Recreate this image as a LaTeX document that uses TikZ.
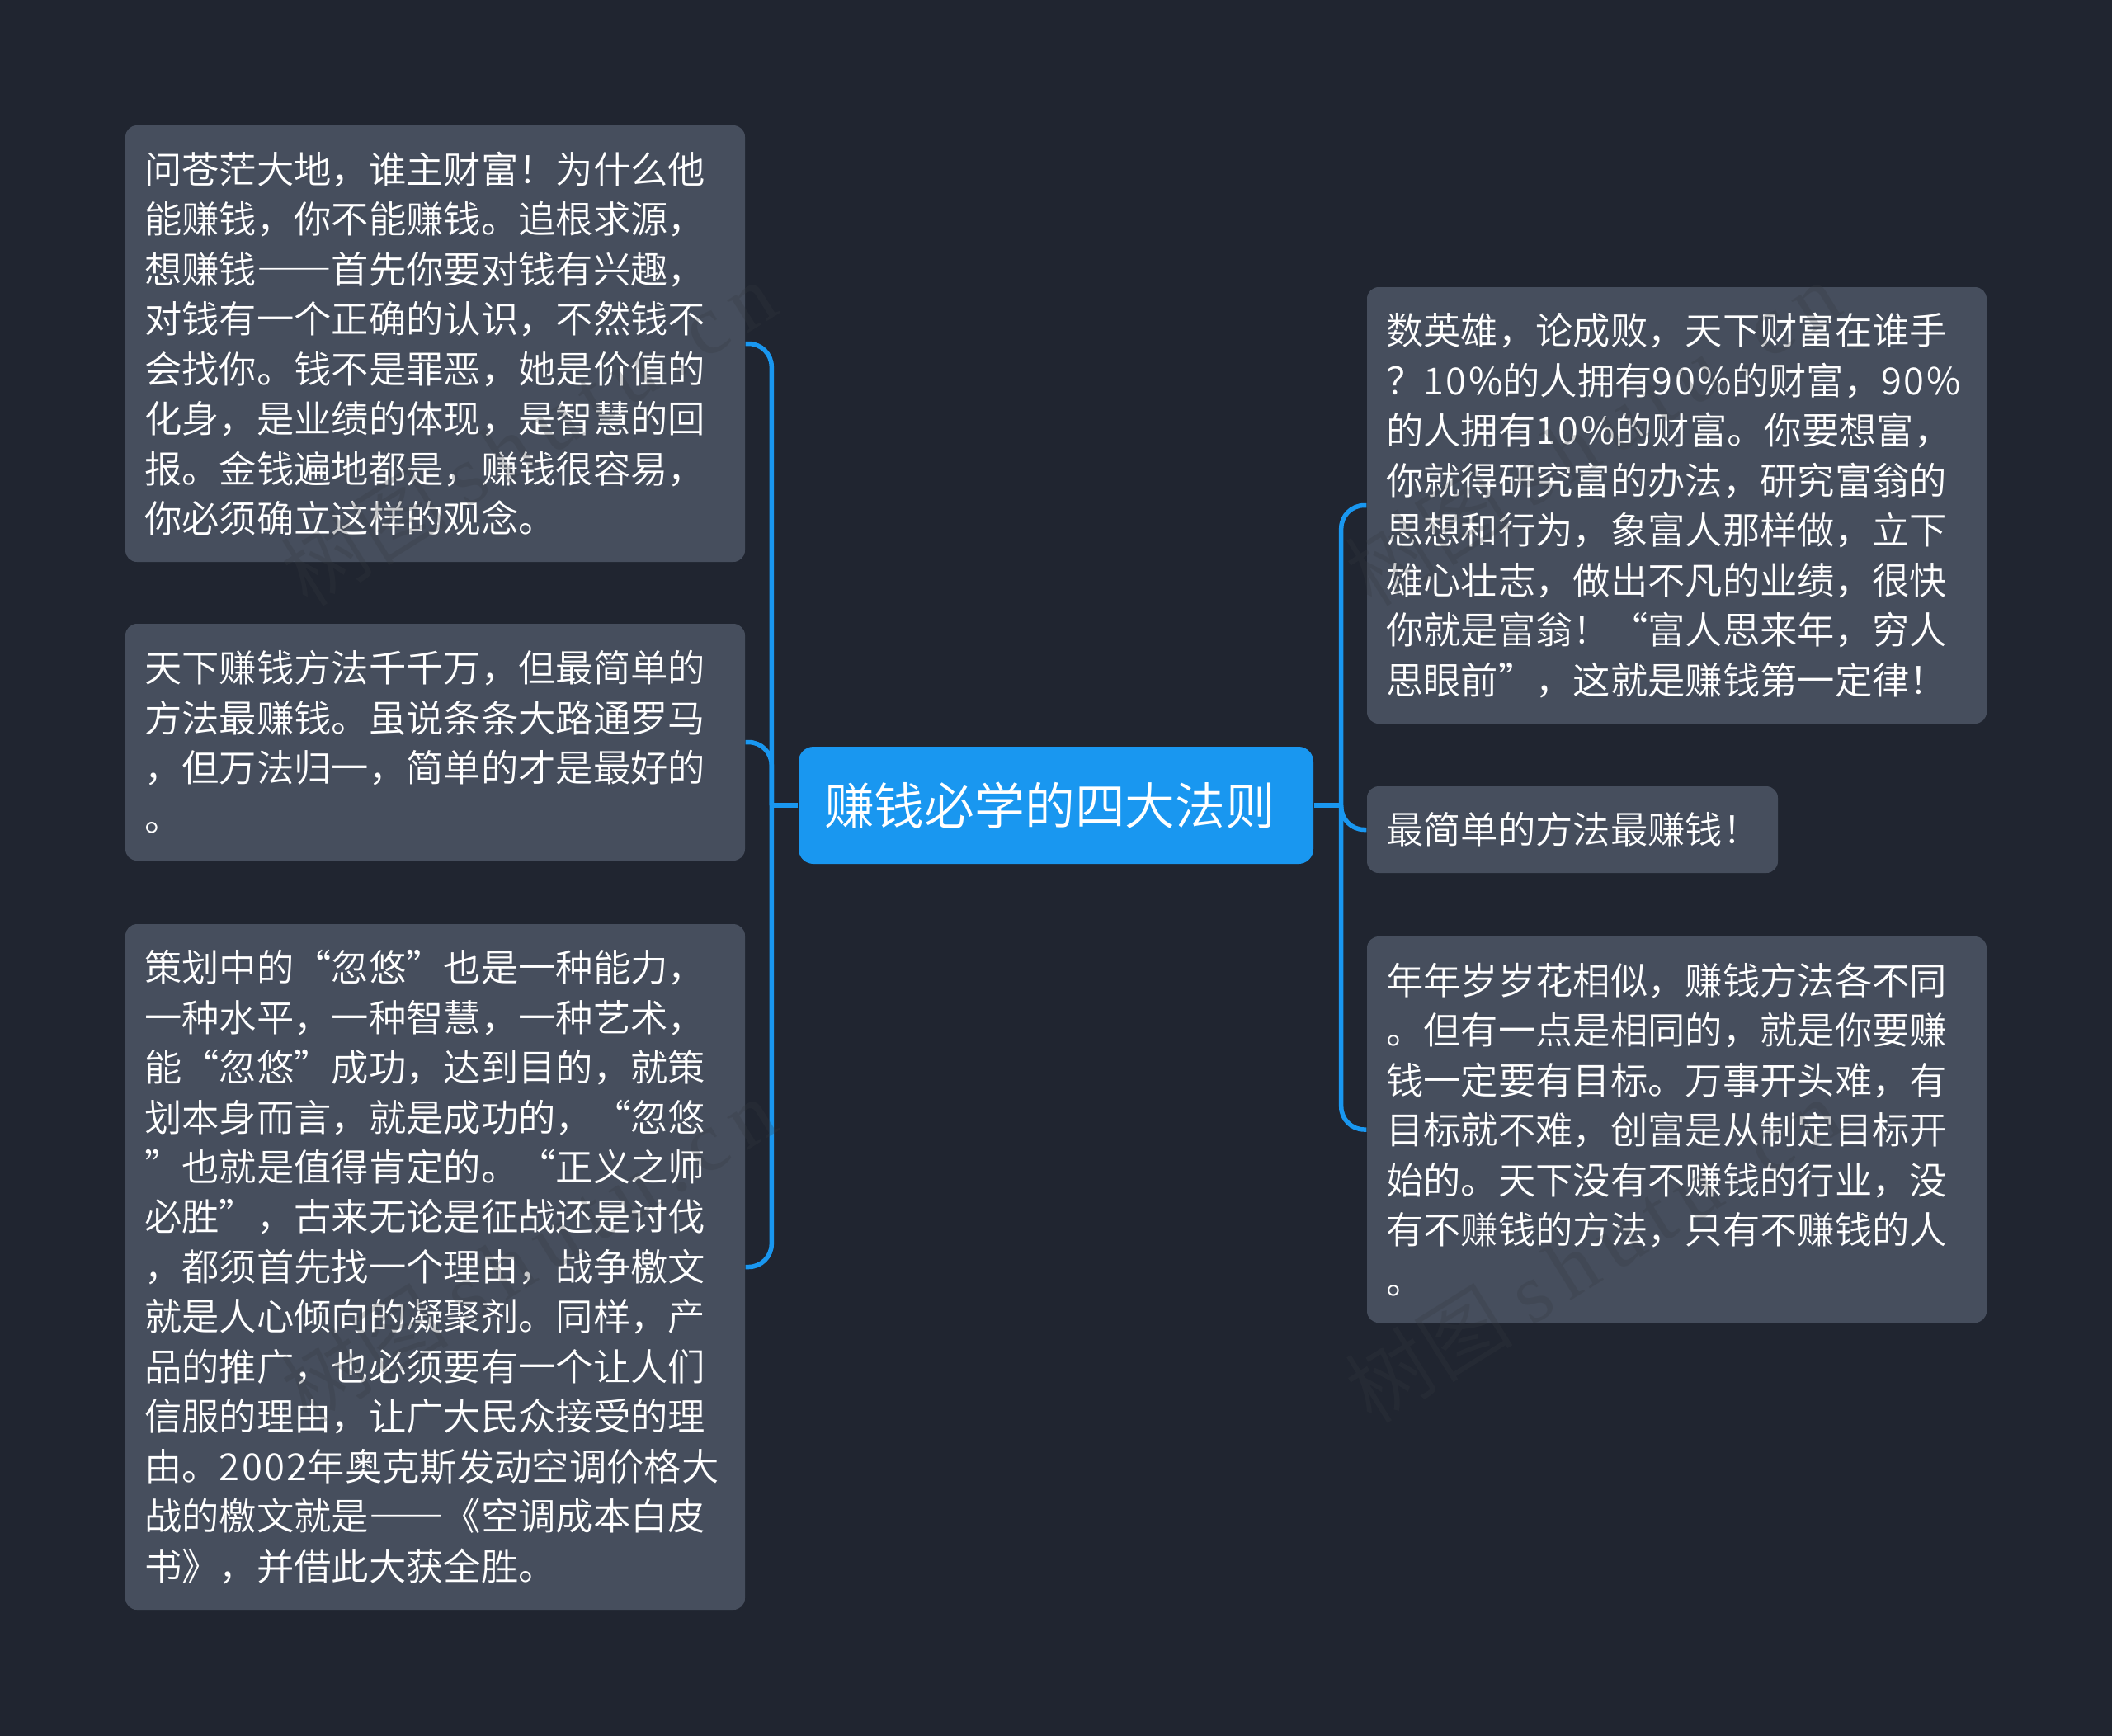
\documentclass[tikz,border=0pt]{standalone}
\usepackage{fontspec}
\setmainfont{Noto Sans CJK SC}[UprightFont={* DemiLight}]
\newfontfamily\stampfont{Liberation Serif}[LetterSpace=15]
\newcommand{\digs}[1]{{\addfontfeature{LetterSpace=5.5}#1}}
\newcommand{\dashes}{{\addfontfeature{RawFeature=+fwid}——}}
\definecolor{bgdark}{HTML}{202530}
\definecolor{boxgray}{HTML}{464E5D}
\definecolor{linkblue}{HTML}{1997F0}
\definecolor{stampgray}{HTML}{363A40}

\begin{document}
\begin{tikzpicture}
        [every node/.style={align=left,inner xsep=0.23cm,inner ysep=0,rounded corners=0.14cm,fill=boxgray,text=white,font=\fontsize{12.9pt}{17.2pt}\selectfont},
        link/.style={draw=linkblue,line width=0.055cm,rounded corners=0.28cm},
        stamp/.style={fill=none,text=stampgray,text opacity=0.27,rotate=32,font=\fontsize{29pt}{36pt}\selectfont}]

        \useasboundingbox (0, 0) rectangle (25.6, -21.03);
        \fill[bgdark] (-0.1, 0.1) rectangle (25.7, -21.13);

        \node[fill=linkblue,rounded corners=0.18cm,inner xsep=0.31cm,text width=5.62cm,minimum height=1.42cm,font=\fontsize{17.3pt}{20pt}\selectfont] (root) at (12.8, -9.76) {赚钱必学的四大法则};

        \node[text width=7.05cm,minimum height=5.29cm] (l1) at (5.275, -4.165) {问苍茫大地，谁主财富！为什么他\\能赚钱，你不能赚钱。追根求源，\\想赚钱\dashes 首先你要对钱有兴趣，\\对钱有一个正确的认识，不然钱不\\会找你。钱不是罪恶，她是价值的\\化身，是业绩的体现，是智慧的回\\报。金钱遍地都是，赚钱很容易，\\你必须确立这样的观念。};
        \node[text width=7.05cm,minimum height=2.87cm] (l2) at (5.275, -8.995) {天下赚钱方法千千万，但最简单的\\方法最赚钱。虽说条条大路通罗马\\，但万法归一，简单的才是最好的\\。};
        \node[text width=7.05cm,minimum height=8.31cm] (l3) at (5.275, -15.355) {策划中的“忽悠”也是一种能力，\\一种水平，一种智慧，一种艺术，\\能“忽悠”成功，达到目的，就策\\划本身而言，就是成功的，“忽悠\\”也就是值得肯定的。“正义之师\\必胜”，古来无论是征战还是讨伐\\，都须首先找一个理由，战争檄文\\就是人心倾向的凝聚剂。同样，产\\品的推广，也必须要有一个让人们\\信服的理由，让广大民众接受的理\\由。\digs{2002}年奥克斯发动空调价格大\\战的檄文就是\dashes《空调成本白皮\\书》，并借此大获全胜。};

        \node[text width=7.05cm,minimum height=5.29cm] (r1) at (20.325, -6.125) {数英雄，论成败，天下财富在谁手\\？\digs{10\%}的人拥有\digs{90\%}的财富，\digs{90\%}\\的人拥有\digs{10\%}的财富。你要想富，\\你就得研究富的办法，研究富翁的\\思想和行为，象富人那样做，立下\\雄心壮志，做出不凡的业绩，很快\\你就是富翁！“富人思来年，穷人\\思眼前”，这就是赚钱第一定律！};
        \node[text width=4.52cm,minimum height=1.05cm] (r2) at (19.06, -10.055) {最简单的方法最赚钱！};
        \node[text width=7.05cm,minimum height=4.68cm] (r3) at (20.325, -13.69) {年年岁岁花相似，赚钱方法各不同\\。但有一点是相同的，就是你要赚\\钱一定要有目标。万事开头难，有\\目标就不难，创富是从制定目标开\\始的。天下没有不赚钱的行业，没\\有不赚钱的方法，只有不赚钱的人\\。};

        \path (root.west) -- ++(-0.32, 0) coordinate (jl);
        \path (root.east) -- ++(0.33, 0) coordinate (jr);

        \draw[link] (root.west) -- (jl);
        \draw[link] (jl) |- (l1.east);
        \draw[link] (jl) |- (l2.east);
        \draw[link] (jl) |- (l3.east);
        \draw[link] (root.east) -- (jr);
        \draw[link] (jr) |- (r1.west);
        \draw[link] (jr) |- (r2.west);
        \draw[link] (jr) |- (r3.west);

        \node[stamp] (wm1) at (6.4, -5.25) {树图 {\stampfont shutu.cn}};
        \node[stamp] (wm2) at (19.3, -5.25) {树图 {\stampfont shutu.cn}};
        \node[stamp] (wm3) at (6.4, -15.15) {树图 {\stampfont shutu.cn}};
        \node[stamp] (wm4) at (19.3, -15.15) {树图 {\stampfont shutu.cn}};
      \end{tikzpicture}
\end{document}
